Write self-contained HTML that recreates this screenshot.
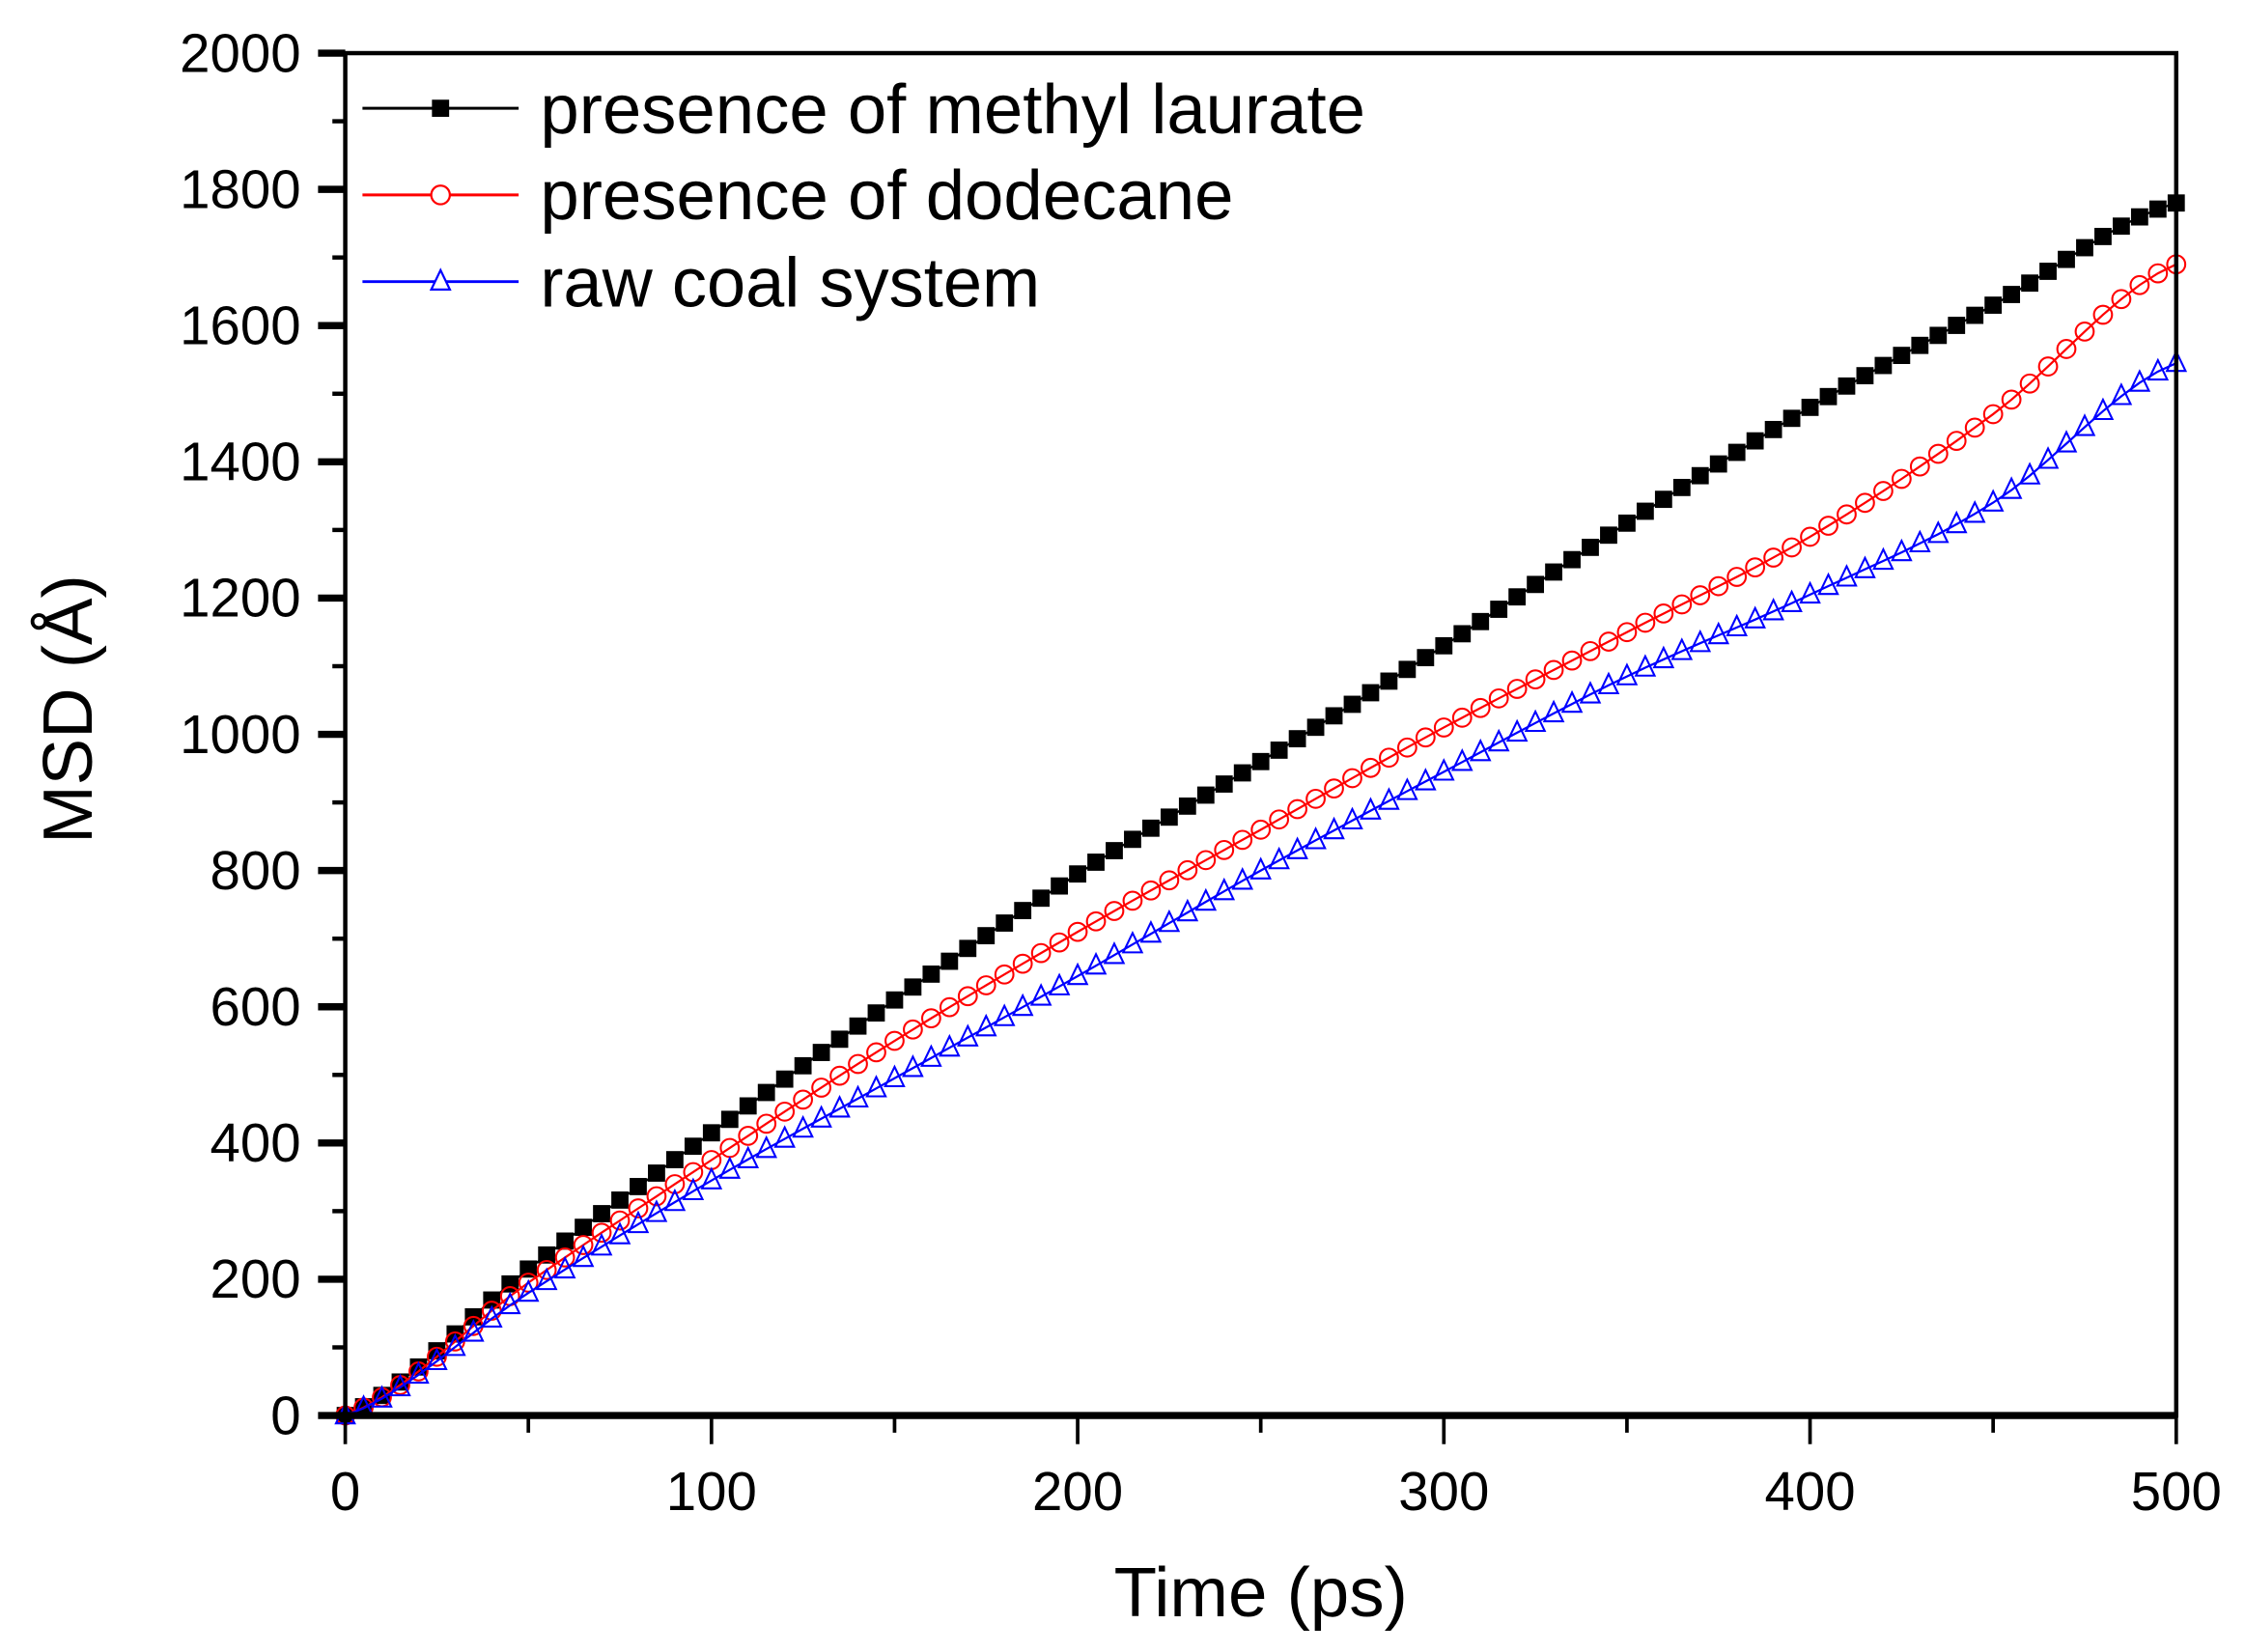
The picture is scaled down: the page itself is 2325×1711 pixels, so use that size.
<!DOCTYPE html>
<html><head><meta charset="utf-8"><style>
html,body{margin:0;padding:0;background:#fff;width:2325px;height:1711px;overflow:hidden}
svg{display:block}
text{font-family:"Liberation Sans",Arial,sans-serif;fill:#000}
</style></head><body>
<svg id="s" width="2325" height="1711" viewBox="0 0 1567 1153" xmlns="http://www.w3.org/2000/svg">
<rect width="1567" height="1153" fill="#fff"/>
<g id="series"></g>
<g id="axes" stroke="#000" fill="none"></g>
<g id="labels"></g>
<g id="legend">
<line x1="253" y1="75.5" x2="362" y2="75.5" stroke="#000" stroke-width="2"/>
<rect x="301.5" y="69.5" width="12" height="12" fill="#000"/>
<line x1="253" y1="136" x2="362" y2="136" stroke="#f00" stroke-width="2"/>
<circle cx="307.5" cy="136" r="6.5" fill="#fff" stroke="#f00" stroke-width="1.5"/>
<line x1="253" y1="196.5" x2="362" y2="196.5" stroke="#00f" stroke-width="2"/>
<polygon points="307.5,188.5 301,202 314,202" fill="#fff" stroke="#00f" stroke-width="1.5"/>
<text x="377" y="93" font-size="49" textLength="576" lengthAdjust="spacingAndGlyphs">presence of methyl laurate</text>
<text x="377" y="153" font-size="49" textLength="484" lengthAdjust="spacingAndGlyphs">presence of dodecane</text>
<text x="377" y="214" font-size="49" textLength="349" lengthAdjust="spacingAndGlyphs">raw coal system</text>
</g>
<text x="880" y="1128" font-size="49" text-anchor="middle">Time (ps)</text>
<text transform="translate(64,495) rotate(-90)" font-size="49" text-anchor="middle">MSD (Å)</text>
</svg>
<script>
const NS="http://www.w3.org/2000/svg";
const X0=241,X1=1519,Y0=988,Y1=37;
const px=t=>X0+(X1-X0)*t/500, py=v=>Y0-(Y0-Y1)*v/2000;
function el(p,tag,a){const e=document.createElementNS(NS,tag);for(const k in a)e.setAttribute(k,a[k]);p.appendChild(e);return e;}
const ax=document.getElementById('axes'), lb=document.getElementById('labels'), se=document.getElementById('series');
el(ax,'rect',{x:X0,y:Y1,width:X1-X0,height:Y0-Y1,'stroke-width':3});
el(ax,'line',{x1:X0-2,y1:Y0,x2:X1,y2:Y0,'stroke-width':5});
for(let v=0;v<=2000;v+=100){const y=py(v);const big=v%200==0;
 el(ax,'line',{x1:X0-(big?19:9),y1:y,x2:X0,y2:y,'stroke-width':big?5:3});
 if(big){const t=el(lb,'text',{x:210,y:y+13,'font-size':38,'text-anchor':'end'});t.textContent=v;}}
for(let t=0;t<=500;t+=50){const x=px(t);const big=t%100==0;
 el(ax,'line',{x1:x,y1:Y0,x2:x,y2:Y0+(big?20:12),'stroke-width':2.5});
 if(big){const e=el(lb,'text',{x:x,y:1054,'font-size':38,'text-anchor':'middle'});e.textContent=t;}}
const data={
 b:[0,215,415,610,795,960,1130,1310,1480,1630,1780],
 r:[0,195,375,550,710,860,1010,1150,1290,1470,1690],
 u:[0,180,345,495,645,800,945,1085,1205,1340,1545]};
function interp(a,t){let i=Math.min(Math.floor(t/50),9);const s=(t-i*50)/50;
 const p0=a[Math.max(i-1,0)],p1=a[i],p2=a[i+1],p3=a[Math.min(i+2,10)];
 return 0.5*((2*p1)+(-p0+p2)*s+(2*p0-5*p1+4*p2-p3)*s*s+(-p0+3*p1-3*p2+p3)*s*s*s);}
function series(a,col,mk){let d='';const pts=[];
 for(let t=0;t<=500;t+=5){const x=px(t),y=py(interp(a,t));pts.push([x,y]);d+=(t?'L':'M')+x.toFixed(1)+','+y.toFixed(1);}
 el(se,'path',{d:d,stroke:col,'stroke-width':1.5,fill:'none'});
 for(const [x,y] of pts){
  if(mk=='s')el(se,'rect',{x:x-6,y:y-6,width:12,height:12,fill:col});
  else if(mk=='c')el(se,'circle',{cx:x,cy:y,r:6.3,fill:'none',stroke:col,'stroke-width':1.4});
  else el(se,'polygon',{points:`${x},${y-8} ${x-6.5},${y+5.5} ${x+6.5},${y+5.5}`,fill:'none',stroke:col,'stroke-width':1.4});}}
series(data.b,'#000','s');series(data.r,'#f00','c');series(data.u,'#00f','t');
</script>
</body></html>
